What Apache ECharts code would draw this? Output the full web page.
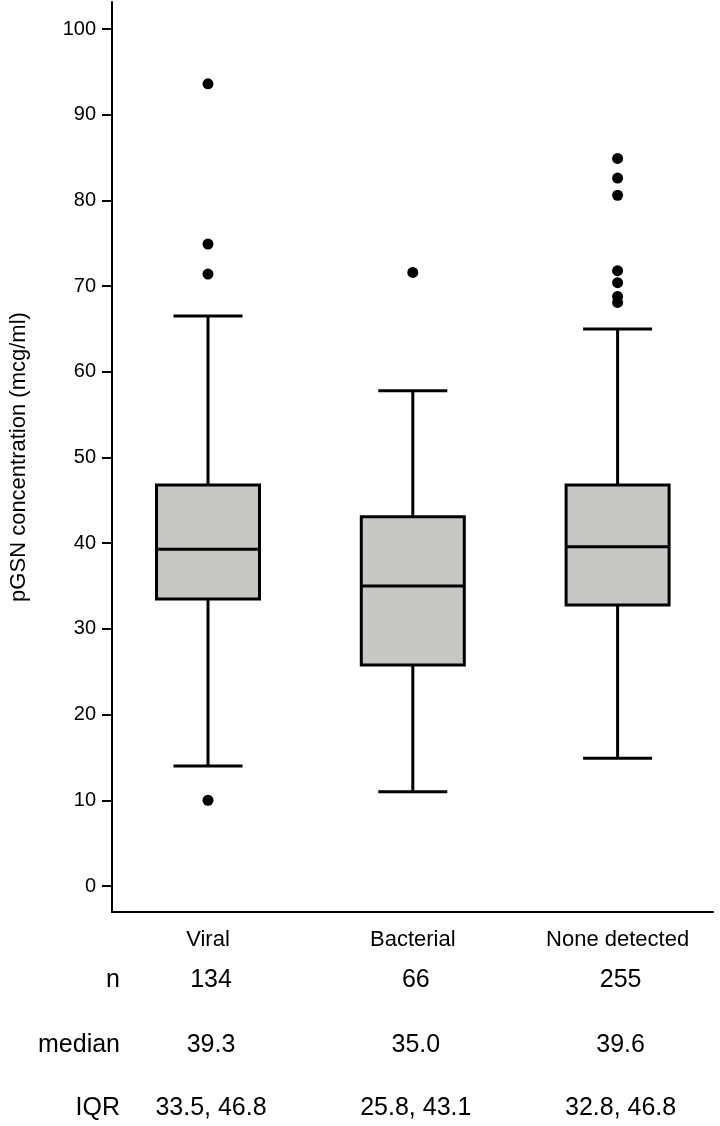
<!DOCTYPE html>
<html>
<head>
<meta charset="utf-8">
<script src="https://cdn.jsdelivr.net/npm/echarts@6/dist/echarts.min.js"></script>
<style>
html,body{margin:0;padding:0;background:#fff;}
#chart{width:720px;height:1126px;}
</style>
</head>
<body>
<div id="chart"></div>
<script>
// ---- data ----
var categories = ['Viral', 'Bacterial', 'None detected'];
// [lower whisker, Q1, median, Q3, upper whisker]
var boxViral = [14.0, 33.5, 39.3, 46.8, 66.5];
var boxBacterial = [11.0, 25.8, 35.0, 43.1, 57.8];
var boxNone = [14.9, 32.8, 39.6, 46.8, 65.0];
var outliersViral = [93.6, 74.9, 71.4, 10.0];
var outliersBacterial = [71.6];
var outliersNone = [84.9, 82.6, 80.6, 71.8, 70.4, 68.8, 68.1];
var yTicks = [0, 10, 20, 30, 40, 50, 60, 70, 80, 90, 100];
var nValues = ['134', '66', '255'];
var medianValues = ['39.3', '35.0', '39.6'];
var iqrValues = ['33.5, 46.8', '25.8, 43.1', '32.8, 46.8'];
var rowLabels = ['n', 'median', 'IQR'];

var boxes = [boxViral, boxBacterial, boxNone];
var outliers = [outliersViral, outliersBacterial, outliersNone];

var boxData = boxes.map(function (b, i) { return [i].concat(b); });
var outlierData = [];
outliers.forEach(function (arr, i) {
  arr.forEach(function (v) { outlierData.push([i, v]); });
});

var FONT = '"Liberation Sans", Arial, sans-serif';
var YMIN = -3.03, YMAX = 103.15;

var chart = echarts.init(document.getElementById('chart'), null, {renderer: 'canvas'});

var option = {
  backgroundColor: '#ffffff',
  animation: false,
  grid: [
    {left: 111, right: 7, top: 2, bottom: 214},
    {left: 105.6, width: 617.25, top: 2, bottom: 214}
  ],
  xAxis: [
    {
      gridIndex: 0, type: 'value', min: 0, max: 1,
      axisLine: {show: true, onZero: false, lineStyle: {color: '#000', width: 2}},
      axisTick: {show: false}, axisLabel: {show: false}, splitLine: {show: false}
    },
    {
      gridIndex: 1, type: 'category', data: categories, boundaryGap: true,
      axisLine: {show: false, onZero: false}, axisTick: {show: false}, splitLine: {show: false},
      axisLabel: {show: true, color: '#000', fontSize: 22, fontFamily: FONT, margin: 17, interval: 0}
    }
  ],
  yAxis: [
    {
      gridIndex: 0, type: 'value', min: YMIN, max: YMAX,
      name: 'pGSN concentration (mcg/ml)',
      nameLocation: 'middle', nameGap: 82, nameRotate: 90,
      nameTextStyle: {color: '#000', fontSize: 22, fontFamily: FONT},
      axisLine: {show: true, onZero: false, lineStyle: {color: '#000', width: 2}},
      axisTick: {show: true, length: 10, lineStyle: {color: '#000', width: 2}, customValues: yTicks},
      axisLabel: {show: true, color: '#000', fontSize: 20, fontFamily: FONT, margin: 16, customValues: yTicks},
      splitLine: {show: false}
    },
    {
      gridIndex: 1, type: 'value', min: YMIN, max: YMAX, show: false,
      axisLine: {onZero: false},
      splitLine: {show: false}
    }
  ],
  series: [
    {
      type: 'custom',
      xAxisIndex: 1, yAxisIndex: 1,
      data: boxData,
      encode: {x: 0, y: [1, 2, 3, 4, 5]},
      renderItem: function (params, api) {
        var c = api.value(0);
        var pMin = api.coord([c, api.value(1)]);
        var pQ1 = api.coord([c, api.value(2)]);
        var pMed = api.coord([c, api.value(3)]);
        var pQ3 = api.coord([c, api.value(4)]);
        var pMax = api.coord([c, api.value(5)]);
        var x = pMed[0];
        var bw = 103, cw = 69;
        var ls = {stroke: '#000', lineWidth: 3};
        return {
          type: 'group',
          children: [
            {type: 'line', shape: {x1: x, y1: pMin[1], x2: x, y2: pQ1[1]}, style: ls},
            {type: 'line', shape: {x1: x, y1: pQ3[1], x2: x, y2: pMax[1]}, style: ls},
            {type: 'line', shape: {x1: x - cw / 2, y1: pMin[1], x2: x + cw / 2, y2: pMin[1]}, style: ls},
            {type: 'line', shape: {x1: x - cw / 2, y1: pMax[1], x2: x + cw / 2, y2: pMax[1]}, style: ls},
            {type: 'rect', shape: {x: x - bw / 2, y: pQ3[1], width: bw, height: pQ1[1] - pQ3[1]},
              style: {fill: '#c7c8c4', stroke: '#000', lineWidth: 3}},
            {type: 'line', shape: {x1: x - bw / 2, y1: pMed[1], x2: x + bw / 2, y2: pMed[1]}, style: ls}
          ]
        };
      },
      z: 2
    },
    {
      type: 'scatter',
      xAxisIndex: 1, yAxisIndex: 1,
      data: outlierData,
      symbol: 'circle', symbolSize: 11,
      itemStyle: {color: '#000', opacity: 1},
      z: 3
    }
  ]
};
chart.setOption(option);

// table below the chart, positioned through the category axis
var rowYs = [980, 1045, 1108];
var rows = [nValues, medianValues, iqrValues];
var graphics = [];
rowLabels.forEach(function (lab, r) {
  graphics.push({
    type: 'text', x: 120, y: rowYs[r],
    style: {text: lab, fill: '#000', fontSize: 25, fontFamily: FONT, textAlign: 'right', textVerticalAlign: 'middle'}
  });
  rows[r].forEach(function (val, i) {
    var px = chart.convertToPixel({xAxisIndex: 1}, i);
    graphics.push({
      type: 'text', x: px + 3, y: rowYs[r],
      style: {text: val, fill: '#000', fontSize: 25, fontFamily: FONT, textAlign: 'center', textVerticalAlign: 'middle'}
    });
  });
});
chart.setOption({graphic: graphics});
</script>
</body>
</html>
